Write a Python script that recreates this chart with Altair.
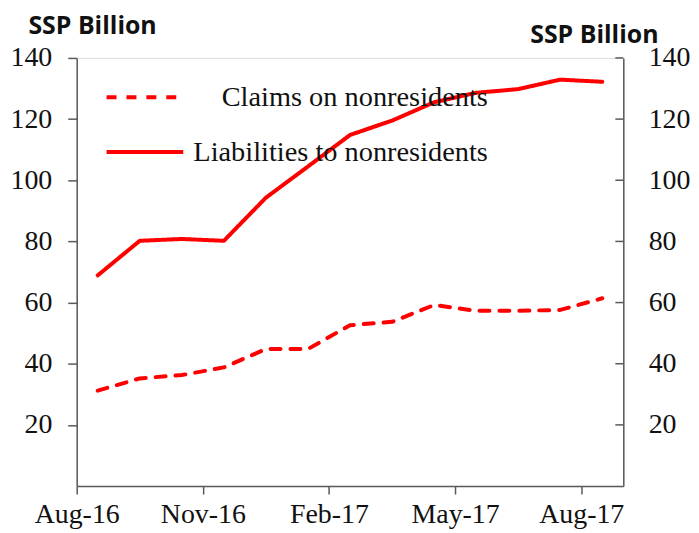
import altair as alt
import pandas as pd

months = ["Aug-16", "Sep-16", "Oct-16", "Nov-16", "Dec-16", "Jan-17", "Feb-17",
          "Mar-17", "Apr-17", "May-17", "Jun-17", "Jul-17", "Aug-17"]
claims = [31.2, 35.2, 36.3, 38.8, 44.8, 44.8, 52.6, 53.7, 59.2, 57.3, 57.3, 57.6, 61.4]
liabilities = [68.9, 80.2, 80.8, 80.2, 94.3, 104.5, 114.8, 119.5, 125.5, 128.6, 129.8, 132.9, 132.2]
series_names = ["Claims on nonresidents", "Liabilities to nonresidents"]
y_ticks = [20, 40, 60, 80, 100, 120, 140]
x_tick_pos = [0, 3, 6, 9, 12]
x_tick_labels = [months[i] for i in x_tick_pos]

rows = []
for i, m in enumerate(months):
    rows.append({"pos": i + 0.5, "month": m, "series": series_names[0], "value": claims[i]})
    rows.append({"pos": i + 0.5, "month": m, "series": series_names[1], "value": liabilities[i]})
df = pd.DataFrame(rows)
ticks_df = pd.DataFrame({"v": y_ticks})

label_arr = "[" + ",".join("'" + s + "'" for s in x_tick_labels) + "]"

W, H = 549, 430
serif = "Liberation Serif"
AX = "#595959"
TFONT = "Open Sans"

x_enc = alt.X("pos:Q", scale=alt.Scale(domain=[0, 13], nice=False, zero=False),
              axis=alt.Axis(values=x_tick_pos, labelExpr=label_arr + "[round(datum.value/3)]",
                            title=None, grid=False, domainColor=AX, domainWidth=1.5,
                            tickColor=AX, tickWidth=1.5, tickSize=8,
                            labelFont=serif, labelFontSize=28, labelColor="#111",
                            labelPadding=7, labelFlush=False))

lines = alt.Chart(df).mark_line(color="#FF0000", strokeWidth=4, strokeCap="round",
                                strokeJoin="round").encode(
    x=x_enc,
    y=alt.Y("value:Q", scale=alt.Scale(domain=[0, 140], nice=False),
            axis=alt.Axis(values=y_ticks, grid=False, orient="left",
                          domainColor=AX, domainWidth=1.5, tickColor=AX, tickWidth=1.5,
                          tickSize=9, labelFont=serif, labelFontSize=28, labelColor="#111",
                          labelPadding=16,
                          title="SSP Billion", titleAngle=0, titleX=-49, titleY=-25,
                          titleAlign="left", titleBaseline="alphabetic",
                          titleFont=TFONT, titleFontWeight="bold", titleFontSize=25,
                          titleColor="#111")),
    strokeDash=alt.StrokeDash("series:N",
                              scale=alt.Scale(domain=series_names, range=[[10, 10], [1, 0]]),
                              legend=alt.Legend(title=None, orient="none", legendX=28, legendY=-1,
                                                symbolType="stroke", symbolSize=5929,
                                                symbolStrokeWidth=4, symbolStrokeColor="#FF0000",
                                                labelFont=serif, labelFontSize=28.5,
                                                labelColor="#111", labelAlign="right",
                                                labelOffset=304, labelLimit=0,
                                                rowPadding=-10)),
    order="pos:Q",
)

right_ticks = alt.Chart(ticks_df).mark_rule(color=AX, strokeWidth=1.5).encode(
    y=alt.Y("v:Q", scale=alt.Scale(domain=[0, 140], nice=False),
            axis=alt.Axis(values=y_ticks, grid=False, orient="right", ticks=False,
                          domainColor=AX, domainWidth=1.5,
                          labelFont=serif, labelFontSize=28, labelColor="#111",
                          labelPadding=25,
                          title="SSP Billion", titleAngle=0, titleX=-94, titleY=-16,
                          titleAlign="left", titleBaseline="alphabetic",
                          titleFont=TFONT, titleFontWeight="bold", titleFontSize=25,
                          titleColor="#111")),
    x=alt.value(W - 8),
    x2=alt.value(W),
)

chart = alt.layer(lines, right_ticks).resolve_scale(y="independent").properties(
    width=W, height=H,
    autosize=alt.AutoSizeParams(type="none"),
    padding={"left": 69, "top": 49, "right": 68, "bottom": 46},
).configure_view(stroke=None).configure(background="white")

chart.save("out.html", embed_options={"renderer": "svg", "actions": False})
